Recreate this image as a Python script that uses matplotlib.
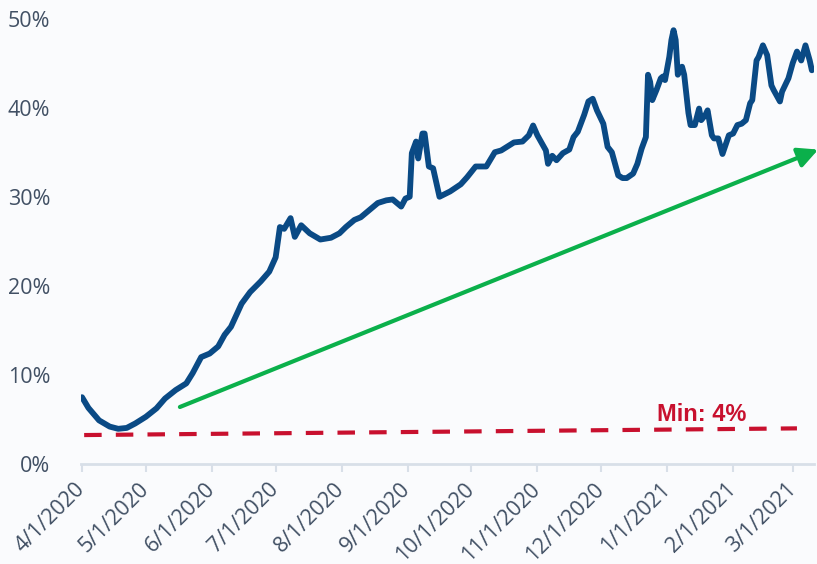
"""
Share of volume chart: daily series with a rising trend arrow and the minimum line.
"""

import matplotlib
matplotlib.use("Agg")

import matplotlib.pyplot as plt
import pandas as pd

# series values (date, percent)
dates = [
    "2020-04-01", "2020-04-04", "2020-04-09", "2020-04-14", "2020-04-18", "2020-04-22",
    "2020-04-26", "2020-05-01", "2020-05-06", "2020-05-10", "2020-05-15", "2020-05-20",
    "2020-05-23", "2020-05-27", "2020-05-31", "2020-06-04", "2020-06-07", "2020-06-10",
    "2020-06-15", "2020-06-19", "2020-06-24", "2020-06-28", "2020-07-01", "2020-07-03",
    "2020-07-05", "2020-07-08", "2020-07-10", "2020-07-13", "2020-07-17", "2020-07-22",
    "2020-07-27", "2020-07-31", "2020-08-03", "2020-08-07", "2020-08-10", "2020-08-14",
    "2020-08-18", "2020-08-22", "2020-08-25", "2020-08-29", "2020-08-31", "2020-09-02",
    "2020-09-03", "2020-09-05", "2020-09-06", "2020-09-08", "2020-09-09", "2020-09-11",
    "2020-09-13", "2020-09-16", "2020-09-21", "2020-09-26", "2020-09-29", "2020-10-03",
    "2020-10-08", "2020-10-12", "2020-10-15", "2020-10-21", "2020-10-25", "2020-10-28",
    "2020-10-30", "2020-11-01", "2020-11-05", "2020-11-06", "2020-11-08", "2020-11-10",
    "2020-11-13", "2020-11-16", "2020-11-18", "2020-11-20", "2020-11-23", "2020-11-25",
    "2020-11-27", "2020-11-29", "2020-12-02", "2020-12-04", "2020-12-06", "2020-12-09",
    "2020-12-11", "2020-12-13", "2020-12-16", "2020-12-18", "2020-12-20", "2020-12-22",
    "2020-12-23", "2020-12-24", "2020-12-25", "2020-12-27", "2020-12-29", "2020-12-30",
    "2020-12-31", "2021-01-02", "2021-01-03", "2021-01-04", "2021-01-05", "2021-01-06",
    "2021-01-08", "2021-01-09", "2021-01-11", "2021-01-12", "2021-01-14", "2021-01-16",
    "2021-01-17", "2021-01-19", "2021-01-20", "2021-01-22", "2021-01-23", "2021-01-25",
    "2021-01-27", "2021-01-30", "2021-02-01", "2021-02-03", "2021-02-05", "2021-02-07",
    "2021-02-09", "2021-02-10", "2021-02-12", "2021-02-13", "2021-02-15", "2021-02-17",
    "2021-02-19", "2021-02-20", "2021-02-23", "2021-02-24", "2021-02-27", "2021-03-01",
    "2021-03-03", "2021-03-05", "2021-03-07", "2021-03-09", "2021-03-10",
]
values = [
    7.5, 6.3, 4.9, 4.2, 3.95, 4.05,
    4.55, 5.3, 6.25, 7.35, 8.3, 9.05,
    10.2, 12.0, 12.4, 13.2, 14.5, 15.4,
    18.0, 19.3, 20.5, 21.6, 23.2, 26.6,
    26.4, 27.6, 25.5, 26.8, 25.9, 25.2,
    25.4, 25.9, 26.6, 27.4, 27.7, 28.5,
    29.3, 29.6, 29.7, 28.9, 29.8, 30.0,
    34.9, 36.2, 34.3, 37.1, 37.1, 33.4,
    33.2, 30.0, 30.6, 31.4, 32.2, 33.4,
    33.4, 35.0, 35.2, 36.1, 36.2, 36.9,
    38.0, 36.9, 35.2, 33.7, 34.6, 34.1,
    34.9, 35.3, 36.7, 37.3, 39.2, 40.7,
    41.0, 39.7, 38.2, 35.6, 35.0, 32.4,
    32.1, 32.1, 32.6, 33.7, 35.4, 36.7,
    43.7, 42.9, 40.85, 42.0, 43.3, 43.5,
    43.1, 45.7, 47.6, 48.7, 47.6, 43.7,
    44.6, 43.7, 39.4, 38.05, 38.05, 39.9,
    38.6, 39.2, 39.7, 36.9, 36.55, 36.55,
    34.8, 36.9, 37.1, 38.05, 38.2, 38.6,
    40.5, 40.85, 45.3, 45.7, 47.0, 45.9,
    42.5, 42.0, 40.7, 41.8, 43.3, 45.0,
    46.3, 45.3, 47.0, 45.3, 44.2,
]

# trend arrow and minimum line end points
trend_dates = ["2020-05-17", "2021-03-13"]
trend_values = [6.4, 35.3]
min_dates = ["2020-04-02", "2021-03-03"]
min_values = [3.25, 4.0]
min_label = "Min: 4%"
min_label_pos = ("2021-01-17", 5.6)

tick_dates = pd.date_range("2020-04-01", "2021-03-01", freq="MS")
tick_labels = [f"{d.month}/{d.day}/{d.year}" for d in tick_dates]

BLUE = "#0a4a85"
GREEN = "#0bb04b"
RED = "#c8102e"
TEXT = "#415064"
GRID = "#d8dfe8"
BG = "#fafbfd"


def main():
    x = pd.to_datetime(dates)

    fig = plt.figure(figsize=(8.17, 5.64), dpi=100, facecolor=BG)
    ax = fig.add_axes([0.0991, 0.1773, 0.8972, 0.7897])
    ax.set_facecolor(BG)

    ax.plot(x, values, color=BLUE, lw=4.2, solid_joinstyle="round",
            solid_capstyle="round", zorder=3)

    ax.plot(pd.to_datetime(min_dates), min_values, color=RED, lw=3.0,
            dashes=(4.2, 3.4), zorder=2)
    ax.text(pd.Timestamp(min_label_pos[0]), min_label_pos[1], min_label,
            color=RED, fontsize=17, fontweight="bold", family="Liberation Sans",
            ha="center", va="center")

    t = pd.to_datetime(trend_dates)
    ax.annotate("", xy=(t[1], trend_values[1]), xytext=(t[0], trend_values[0]),
                arrowprops=dict(arrowstyle="-|>", color=GREEN, lw=3.0,
                                mutation_scale=30, shrinkA=0, shrinkB=0),
                annotation_clip=False, zorder=2)

    ax.set_ylim(0, 50)
    ax.set_xlim(pd.Timestamp("2020-04-01") - pd.Timedelta(hours=12),
                pd.Timestamp("2020-04-01") + pd.Timedelta(days=344))

    ax.set_yticks([0, 10, 20, 30, 40, 50])
    ax.set_yticklabels([f"{v}%" for v in range(0, 60, 10)])
    ax.tick_params(axis="y", length=0, pad=22, labelsize=15.5, labelcolor=TEXT)

    ax.set_xticks(tick_dates)
    ax.set_xticklabels(tick_labels, rotation=45, ha="right", va="center",
                       rotation_mode="anchor")
    ax.tick_params(axis="x", length=6, width=1.5, color=GRID, pad=10,
                   labelsize=15.5, labelcolor=TEXT)

    for side in ["top", "right", "left"]:
        ax.spines[side].set_visible(False)
    ax.spines["bottom"].set_color(GRID)
    ax.spines["bottom"].set_linewidth(2)

    for lbl in ax.get_xticklabels() + ax.get_yticklabels():
        lbl.set_family("Open Sans")

    fig.savefig("out.png", dpi=100, facecolor=BG)


if __name__ == "__main__":
    main()
